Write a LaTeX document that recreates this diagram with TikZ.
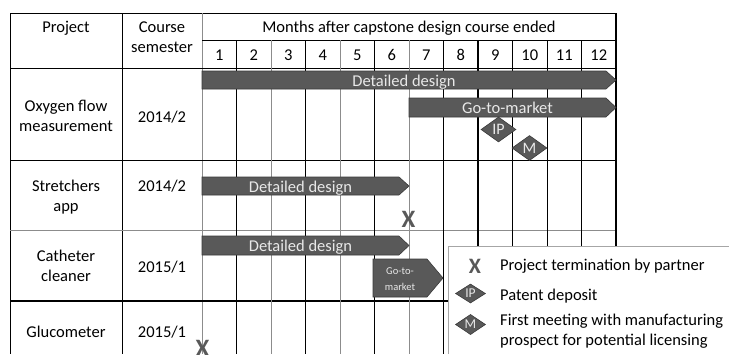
\documentclass[tikz,border=0pt]{standalone}
\usepackage{fontspec}
\setmainfont{Carlito}
\usetikzlibrary{shapes.geometric}

\definecolor{ganttfonce}{HTML}{595959}
\definecolor{ganttbord}{HTML}{3A3A3A}
\definecolor{gantttexte}{HTML}{E8E8E8}
\definecolor{ganttgris}{HTML}{8C8C8C}
\definecolor{legendegris}{HTML}{A6A6A6}

\tikzset{
  grille/.style={draw=black, line width=0.8pt},
  grillegris/.style={draw=ganttgris, line width=0.8pt},
  cellule/.style={anchor=base, align=center, inner sep=0pt,
    font=\fontsize{16.5}{20}\selectfont},
  barre/.style={fill=ganttfonce, draw=ganttbord, line width=0.6pt},
  barretexte/.style={anchor=base, inner sep=0pt, text=gantttexte,
    font=\fontsize{16.5}{20}\selectfont},
  jalon/.style={diamond, fill=ganttfonce, draw=ganttbord, line width=0.6pt,
    text=gantttexte, inner sep=0pt, minimum width=35pt, minimum height=25pt,
    font=\fontsize{16}{18}\selectfont},
  jalonlegende/.style={jalon, minimum width=30pt, minimum height=19pt,
    font=\fontsize{13.5}{15}\selectfont},
  croix/.style={anchor=base, inner sep=0pt, text=ganttfonce,
    font=\bfseries\fontsize{25}{25}\selectfont},
  legende/.style={anchor=base west, align=left, inner sep=0pt,
    font=\fontsize{16.5}{20}\selectfont},
}

% [options], name, x start, x tip, y top, y bottom, tip length, text
\newcommand\ganttbarre[8][]{%
  \draw[barre] (#3,#5) -- ({#4-#7},#5) -- (#4,{(#5+#6)/2}) -- ({#4-#7},#6)
    -- (#3,#6) -- cycle;
  \node[barretexte,#1] (#2) at ({(#3+#4-#7)/2},{(#5+#6)/2+6}) {#8};}

\begin{document}
\begin{tikzpicture}[x=1pt, y=-1pt]
\useasboundingbox (0,0) rectangle (729,354);
\clip (0,0) rectangle (729,354);

% table
\draw[grille] (10,13) -- (616,13);
\draw[grille] (10,13) -- (10,354);
\draw[grille] (122,13) -- (122,354);
\draw[grillegris] (202,13) -- (202,354);
\draw[grille] (202,40) -- (616,40);
\draw[grille] (10,68) -- (616,68);
\draw[grille] (10,160) -- (616,160);
\draw[grillegris] (10,230) -- (616,230);
\draw[grille, line width=1.5pt] (10,301) -- (616,301);
\foreach \i in {1,3,5,7,9,10,11}
  \draw[grille] ({202+34.5*\i},40) -- ({202+34.5*\i},354);
\foreach \i in {2,4,6}
  \draw[grillegris] ({202+34.5*\i},40) -- ({202+34.5*\i},354);
\draw[grille, line width=1.5pt] (478,40) -- (478,354);
\draw[grille, line width=2pt] (616,13) -- (616,354);

% headers (base = last line)
\node[cellule] (hprojet) at (66,32) {Project};
\node[cellule] (hcours) at (162,52.5) {Course\\semester};
\node[cellule] (hmois) at (409,32) {Months after capstone design course ended};
\foreach \m in {1,...,12}
  \node[cellule] (mois\m) at ({184.75+34.5*\m},60) {\m};

% rows
\node[cellule] (oxygene) at (66,131) {Oxygen flow\\measurement};
\node[cellule] (oxygenesem) at (162,122) {2014/2};
\node[cellule] (brancard) at (66,211.5) {Stretchers\\app};
\node[cellule] (brancardsem) at (162,191.7) {2014/2};
\node[cellule] (catheter) at (66,281.7) {Catheter\\cleaner};
\node[cellule] (cathetersem) at (162,272.3) {2015/1};
\node[cellule] (glucometre) at (66,337.7) {Glucometer};
\node[cellule] (glucometresem) at (162,337.7) {2015/1};

% bars
\ganttbarre{oxdd}{202}{616}{71}{89}{10}{Detailed design}
\ganttbarre{oxgtm}{409}{616}{98}{117}{10}{Go-to-market}
\ganttbarre{brdd}{202}{409}{177}{195}{10}{Detailed design}
\ganttbarre{cadd}{202}{409}{236}{255}{10}{Detailed design}
\ganttbarre[yshift=-6pt, align=center,
  font=\fontsize{10.5}{16}\selectfont]{cagtm}{373}{443}{259}{297}{16}{Go-to-\\market}

% milestones
\node[jalon] (oxip) at (498.5,129.5) {IP};
\node[jalon] (oxm) at (529.5,148) {M};
\node[croix] (brx) at (408.5,227) {X};
\node[croix] (glx) at (202.5,356) {X};

% legend
\fill[white] (448,246) rectangle (729,354);
\draw[draw=legendegris, line width=1pt] (448,354) -- (448,246) -- (729,246);
\node[croix, font=\bfseries\fontsize{22}{22}\selectfont] (legx) at (475,273.3) {X};
\node[jalonlegende] (legip) at (470.5,293.5) {IP};
\node[jalonlegende] (legm) at (470.5,324.5) {M};
\node[legende] (legxtexte) at (500,270) {Project termination by partner};
\node[legende] (legiptexte) at (500,300.5) {Patent deposit};
\node[legende] (legmtexte) at (500,345.5)
  {First meeting with manufacturing\\prospect for potential licensing};
\end{tikzpicture}
\end{document}
